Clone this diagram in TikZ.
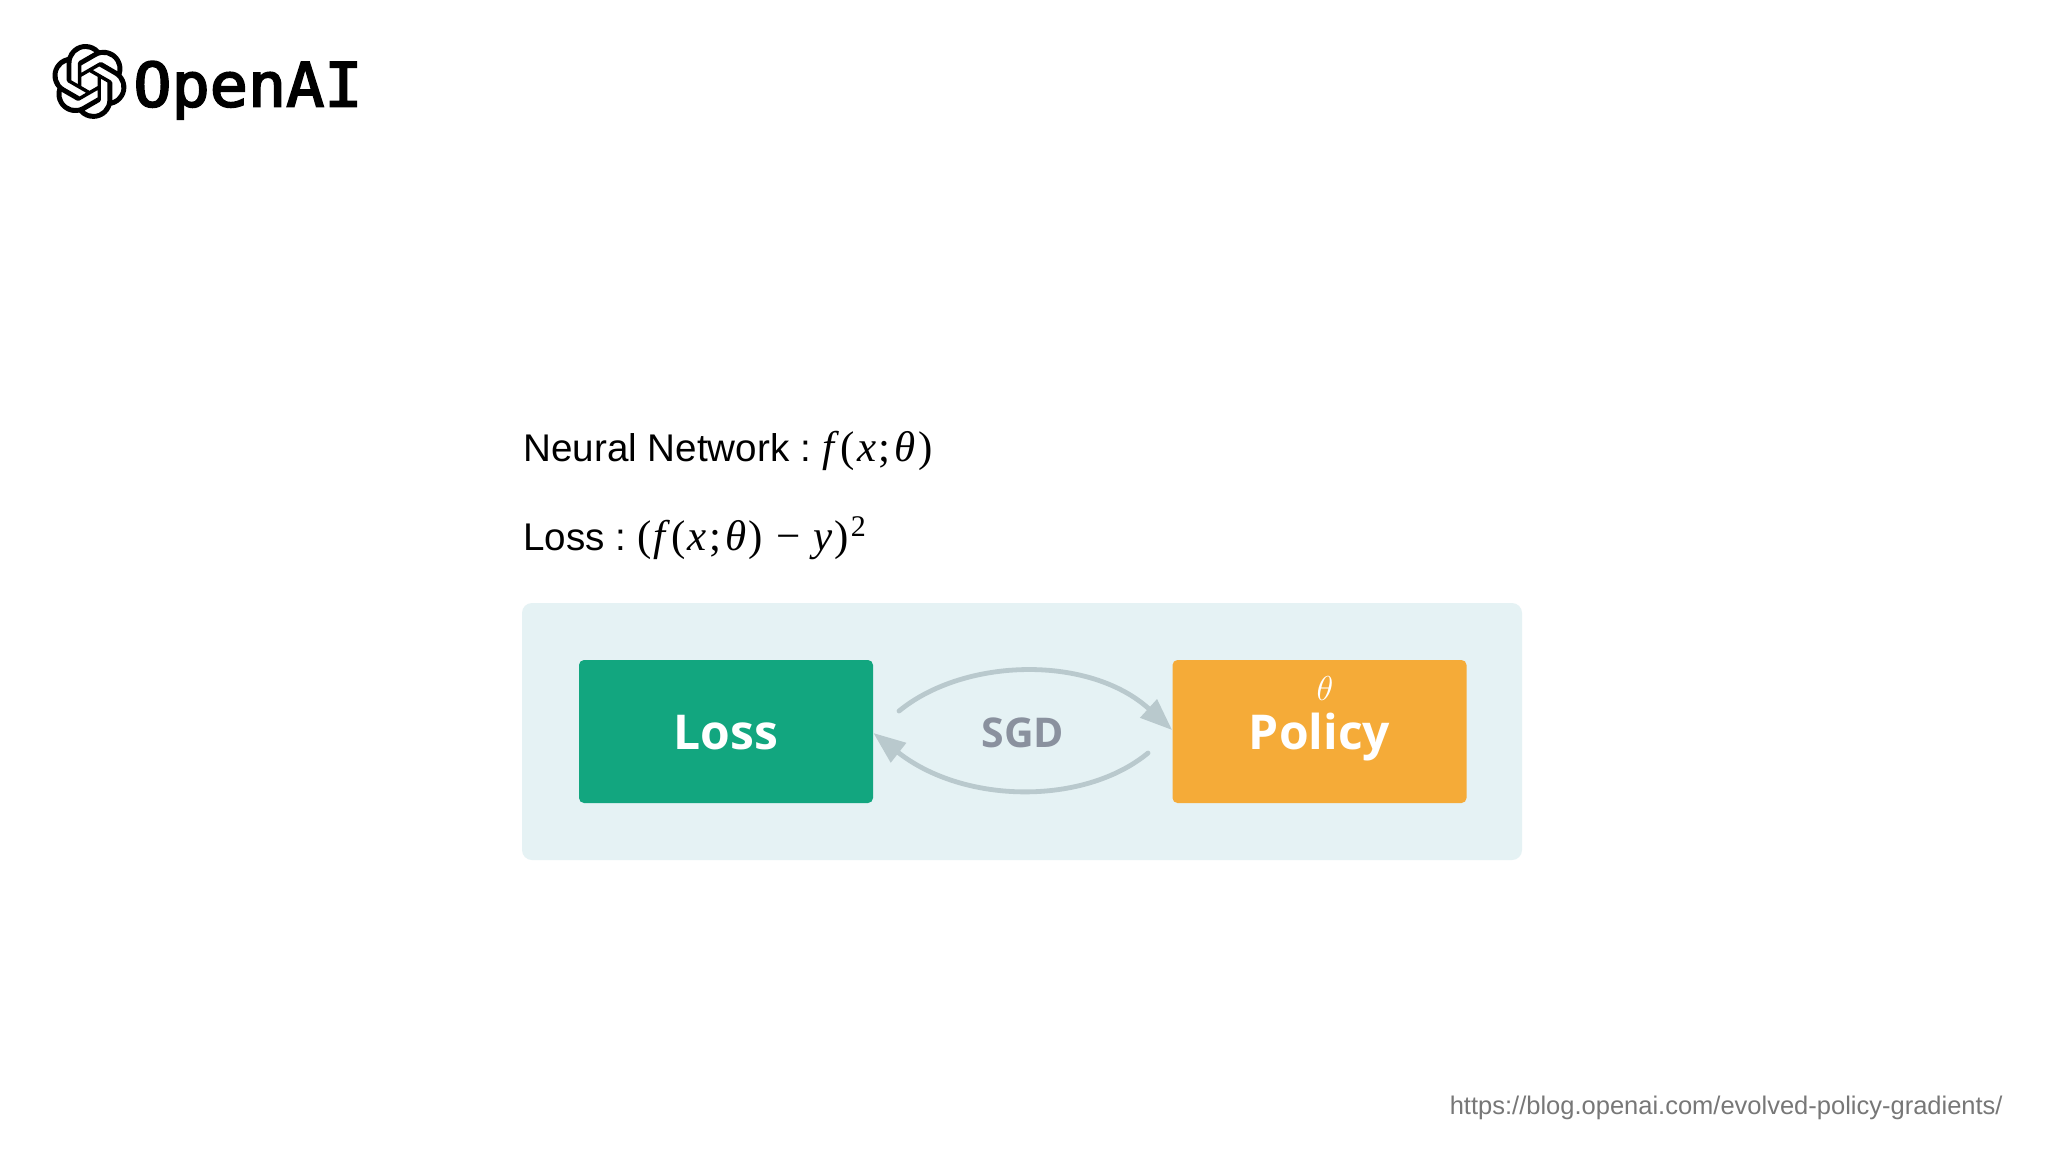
\documentclass[tikz,border=0pt]{standalone}
\usepackage{fontspec}
\setmainfont{Liberation Sans}
\newfontfamily\mathserif{Liberation Serif}
\newfontfamily\logofont[FakeBold=3,FakeStretch=1.04]{DejaVu Sans Mono}
\newfontfamily\boxfont{Open Sans}
\usetikzlibrary{arrows.meta,svg.path}
\definecolor{panelc}{HTML}{E5F2F4}
\definecolor{lossc}{HTML}{12A67F}
\definecolor{policyc}{HTML}{F5AB38}
\definecolor{arrowc}{HTML}{B9C9CD}
\definecolor{sgdc}{HTML}{8A919E}
\definecolor{urlc}{HTML}{777777}
\newcommand{\mi}[1]{{\mathserif\itshape\fontsize{21.5}{26}\selectfont #1}}
\newcommand{\mr}[1]{{\mathserif\fontsize{21.5}{26}\selectfont #1}}
\tikzset{
  panelbox/.style={fill=panelc,rounded corners=5pt,minimum width=500pt,minimum height=128.5pt,inner sep=0pt},
  blockbox/.style={rounded corners=2.5pt,minimum width=147pt,minimum height=71.5pt,inner sep=0pt,text=white,text height=17.5pt,text depth=0pt,font=\boxfont\bfseries\fontsize{24}{29}\selectfont},
  sgdarrow/.style={draw=arrowc,line width=2.4pt,line cap=round,-{Triangle[length=16pt,width=12pt]}},
  slidetext/.style={anchor=base west,inner sep=0pt,font=\fontsize{19.3}{24}\selectfont,text=black}
}
\begin{document}
\begin{tikzpicture}[x=0.5pt,y=-0.5pt]
\useasboundingbox (0,0) rectangle (2048,1152);
\fill[white] (0,0) rectangle (2048,1152);
% logo
\begin{scope}[shift={(52,44)},xscale=1.56,yscale=-1.56]
\fill[black,even odd rule] svg "M22.2819 9.8211a5.9847 5.9847 0 0 0-.5157-4.9108 6.0462 6.0462 0 0 0-6.5098-2.9A6.0651 6.0651 0 0 0 4.9807 4.1818a5.9847 5.9847 0 0 0-3.9977 2.9 6.0462 6.0462 0 0 0 .7427 7.0966 5.98 5.98 0 0 0 .511 4.9107 6.051 6.051 0 0 0 6.5146 2.9001A5.9847 5.9847 0 0 0 13.2599 24a6.0557 6.0557 0 0 0 5.7718-4.2058 5.9894 5.9894 0 0 0 3.9977-2.9001 6.0557 6.0557 0 0 0-.7475-7.0729zm-9.022 12.6081a4.4755 4.4755 0 0 1-2.8764-1.0408l.1419-.0804 4.7783-2.7582a.7948.7948 0 0 0 .3927-.6813v-6.7369l2.02 1.1686a.071.071 0 0 1 .038.052v5.5826a4.504 4.504 0 0 1-4.4945 4.4944zm-9.6607-4.1254a4.4708 4.4708 0 0 1-.5346-3.0137l.142.0852 4.783 2.7582a.7712.7712 0 0 0 .7806 0l5.8428-3.3685v2.3324a.0804.0804 0 0 1-.0332.0615L9.74 19.9502a4.4992 4.4992 0 0 1-6.1408-1.6464zM2.3408 7.8956a4.485 4.485 0 0 1 2.3655-1.9728V11.6a.7664.7664 0 0 0 .3879.6765l5.8144 3.3543-2.0201 1.1685a.0757.0757 0 0 1-.071 0l-4.8303-2.7865A4.504 4.504 0 0 1 2.3408 7.872zm16.5963 3.8558L13.1038 8.364 15.1192 7.2a.0757.0757 0 0 1 .071 0l4.8303 2.7913a4.4944 4.4944 0 0 1-.6765 8.1042v-5.6772a.79.79 0 0 0-.407-.667zm2.0107-3.0231l-.142-.0852-4.7735-2.7818a.7759.7759 0 0 0-.7854 0L9.409 9.2297V6.8974a.0662.0662 0 0 1 .0284-.0615l4.8303-2.7866a4.4992 4.4992 0 0 1 6.6802 4.66zM8.3065 12.863l-2.02-1.1638a.0804.0804 0 0 1-.038-.0567V6.0742a4.4992 4.4992 0 0 1 7.3757-3.4537l-.142.0805L8.704 5.459a.7948.7948 0 0 0-.3927.6813zM9.4041 10.4976l2.602-1.4998 2.6069 1.4998v2.9994l-2.5974 1.4997-2.6067-1.4997Z";
\end{scope}
\node[anchor=base west,inner sep=0pt,font=\logofont\fontsize{30.5}{37}\selectfont,text=black] (wordmark) at (133,106.5) {OpenAI};
% formulas
\node[slidetext] (nn) at (523,461) {Neural Network :\kern6pt\mi{f}\kern3pt\mr{(}\kern1pt\mi{x}\kern1pt\mr{;}\kern2.4pt\mi{θ}\kern1pt\mr{)}};
\node[slidetext] (lossf) at (523,550) {Loss :\kern5.5pt\mr{(}\kern1pt\mi{f}\kern3pt\mr{(}\kern1pt\mi{x}\kern1pt\mr{;}\kern2.4pt\mi{θ}\kern1pt\mr{)}\kern6.5pt\mr{−}\kern6.5pt\mi{y}\kern1pt\mr{)}\kern1pt\raisebox{7pt}{{\mathserif\fontsize{15}{18}\selectfont 2}}};
% diagram
\node[panelbox] (panel) at (1022,731.5) {};
\node[blockbox,fill=lossc] (loss) at (726,731.5) {Loss};
\node[blockbox,fill=policyc] (policy) at (1319.5,731.5) {Policy};
\node[text=white,inner sep=0pt,font=\fontsize{16}{19}\selectfont] (theta) at (1325,688) {$\theta$};
\node[text=sgdc,inner sep=0pt,text depth=0pt,font=\boxfont\bfseries\fontsize{20.5}{25}\selectfont] (sgd) at (1023,733) {SGD};
\coordinate (topstart) at (899,711);
\coordinate (botstart) at (1148,753);
\coordinate (policyin) at (policy.west |- 0,730);
\coordinate (lossin) at (loss.east |- 0,733);
\draw[sgdarrow] (topstart) .. controls (965,657) and (1090,655) .. (policyin);
\draw[sgdarrow] (botstart) .. controls (1085,805) and (965,805) .. (lossin);
% url
\node[anchor=base east,inner sep=0pt,text=urlc,font=\fontsize{12.75}{16}\selectfont] (url) at (2003,1114) {https://blog.openai.com/evolved-policy-gradients/};
\end{tikzpicture}
\end{document}
